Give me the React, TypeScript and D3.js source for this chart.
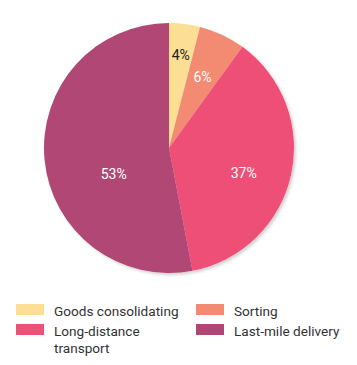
import React from "react";
import * as d3 from "d3";

const categories = ["Goods consolidating", "Sorting", "Long-distance transport", "Last-mile delivery"];
const values = [4, 6, 37, 53];
const colors = ["#FDDE95", "#F38B73", "#EE5077", "#B04674"];
const labelColors = ["#222222", "#ffffff", "#ffffff", "#ffffff"];
// label placement (radius fraction, angle shift in degrees) mimicking best-fit
const labelRadius = [0.75, 0.63, 0.63, 0.49];
const labelAngleShift = [0, 0, 6, -20];
const legendLines = [["Goods consolidating"], ["Sorting"], ["Long-distance", "transport"], ["Last-mile delivery"]];

export default function App() {
  const W = 357, H = 365;
  const cx = 169, cy = 148, R = 125;
  const pie = d3.pie<number>().sort(null).value((d) => d);
  const arcs = pie(values);
  const arc = d3.arc<d3.PieArcDatum<number>>().innerRadius(0).outerRadius(R);
  const font = "Roboto, 'Noto Sans', sans-serif";
  return (
    <svg width={W} height={H} style={{ position: "absolute", left: 0, top: 0, background: "#fff" }}>
      <defs>
        <filter id="sh" x="-10%" y="-10%" width="120%" height="120%">
          <feDropShadow dx="2" dy="2" stdDeviation="1.5" floodColor="#000" floodOpacity="0.18" />
        </filter>
      </defs>
      <g transform={`translate(${cx},${cy})`}>
        <g filter="url(#sh)">
          {arcs.map((a, i) => (
            <path key={i} d={arc(a) || ""} fill={colors[i]} />
          ))}
        </g>
        {arcs.map((a, i) => {
          const mid = (a.startAngle + a.endAngle) / 2 + (labelAngleShift[i] * Math.PI) / 180;
          const r = R * labelRadius[i];
          const x = Math.sin(mid) * r;
          const y = -Math.cos(mid) * r;
          return (
            <text key={i} x={x} y={y} textAnchor="middle" dominantBaseline="central" fill={labelColors[i]}
              fontFamily={font} fontSize={14}>
              {values[i]}%
            </text>
          );
        })}
      </g>
      <g fontFamily={font} fontSize={13.6} fill="#333">
        {categories.map((c, i) => {
          const col = i % 2, row = Math.floor(i / 2);
          const x = col === 0 ? 16 : 196;
          const y = 304 + row * 20;
          return (
            <g key={c}>
              <rect x={x} y={y} width={28} height={11} fill={colors[i]} />
              <text x={x + 38} y={y + 12}>
                {legendLines[i].map((l, j) => (
                  <tspan key={j} x={x + 38} dy={j === 0 ? 0 : 17}>{l}</tspan>
                ))}
              </text>
            </g>
          );
        })}
      </g>
    </svg>
  );
}
